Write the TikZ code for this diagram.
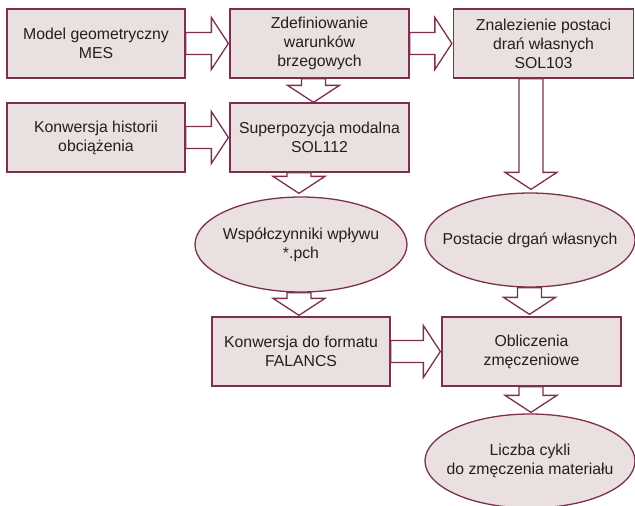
\documentclass[tikz,border=0pt]{standalone}
\usepackage{fontspec}
\setmainfont{Liberation Sans}
\usetikzlibrary{shapes.geometric,calc}
\definecolor{bordc}{RGB}{125,48,78}
\definecolor{fillc}{RGB}{234,224,224}
\definecolor{txtc}{RGB}{35,31,32}
\tikzset{
  box/.style={rectangle, draw=bordc, fill=fillc, line width=1.3pt, minimum width=178pt, minimum height=69pt, inner sep=0pt, align=center, text=txtc, font=\fontsize{15.8}{19}\selectfont},
  oval/.style={ellipse, draw=bordc, fill=fillc, line width=1.3pt, minimum width=212pt, minimum height=95pt, inner sep=0pt},
  lbl/.style={align=center, text=txtc, inner sep=0pt, font=\fontsize{15.8}{19}\selectfont},
  barrow/.style={draw=bordc, fill=white, line width=1.3pt, line join=miter}
}
\newcommand{\blkdown}[2]{%
  \path[barrow] let \p1=(#1), \p2=(#2) in
    (\x2-12pt,\y1) -- (\x2-12pt,\y2+17pt) -- (\x2-26pt,\y2+17pt) -- (\x2,\y2)
    -- (\x2+26pt,\y2+17pt) -- (\x2+12pt,\y2+17pt) -- (\x2+12pt,\y1) -- cycle;}
\newcommand{\blkright}[2]{%
  \path[barrow] let \p1=(#1), \p2=(#2) in
    (\x1,\y2+11pt) -- (\x2-17pt,\y2+11pt) -- (\x2-17pt,\y2+26pt) -- (\x2,\y2)
    -- (\x2-17pt,\y2-26pt) -- (\x2-17pt,\y2-11pt) -- (\x1,\y2-11pt) -- cycle;}
\begin{document}
\begin{tikzpicture}[x=1pt,y=-1pt]
\useasboundingbox (0,0) rectangle (635,506);
\node[box] (b1) at (96,43.5) {Model geometryczny\\MES};
\node[box, minimum width=179pt] (b2) at (319.5,43.5) {Zdefiniowanie\\warunków\\brzegowych};
\node[box, minimum width=180pt] (b3) at (543.5,43.5) {Znalezienie postaci\\drań własnych\\SOL103};
\node[box] (b4) at (96,137.5) {Konwersja historii\\obciążenia};
\node[box, minimum width=179pt] (b5) at (319.5,137.5) {Superpozycja modalna\\SOL112};
\node[oval] (e1) at (301,244.5) {};
\node[lbl] (e1t) at (e1.center) {Współczynniki wpływu\\*.pch};
\node[oval, minimum width=210pt, minimum height=94pt] (e2) at (530,240) {};
\node[lbl] (e2t) at (e2.center) {Postacie drgań własnych};
\node[box] (b6) at (301,351.5) {Konwersja do formatu\\FALANCS};
\node[box, minimum width=179pt] (b7) at (531.5,351.5) {Obliczenia\\zmęczeniowe};
\node[oval, minimum width=210pt, minimum height=94pt] (e3) at (530,461) {};
\node[lbl] (e3t) at (e3.center) {Liczba cykli\\do zmęczenia materiału};
% horizontal block arrows
\blkright{b1.east}{$(b2.west)+(-1,0)$}
\blkright{b2.east}{$(b3.west)+(-1,0)$}
\blkright{b4.east}{$(b5.west)+(-1,0)$}
\blkright{b6.east}{$(b7.west)+(-1,0)$}
% vertical block arrows
\blkdown{b2.south}{$(b5.north)+(-6,0)$}
\blkdown{b5.south}{$(e1.north)+(-2,-3)$}
\blkdown{b3.south}{$(e2.north)+(1,-3)$}
\blkdown{e1.south}{$(b6.north)+(-2,-1)$}
\blkdown{e2.south}{$(b7.north)+(-2,-2)$}
\blkdown{b7.south}{$(e3.north)+(1,-1)$}
\end{tikzpicture}
\end{document}
